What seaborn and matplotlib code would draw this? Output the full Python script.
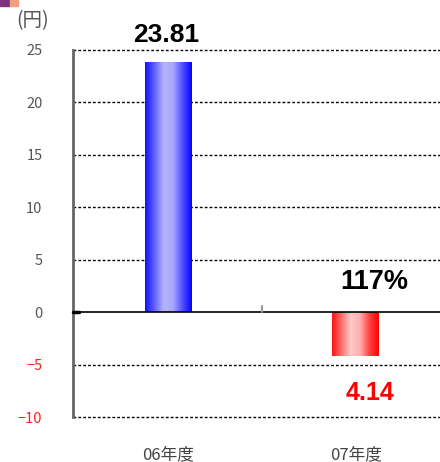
import numpy as np
import pandas as pd
import seaborn as sns
import matplotlib.pyplot as plt
from matplotlib.colors import LinearSegmentedColormap

categories = ['06年度', '07年度']
values = [23.81, -4.14]
value_labels = ['23.81', '4.14']
ratio_label = '117%'
yticks = [25, 20, 15, 10, 5, 0, -5, -10]

sns.set_style('white')
plt.rcParams['font.family'] = ['Noto Sans CJK JP', 'DejaVu Sans']

df = pd.DataFrame({'年度': categories, '円': values})

fig = plt.figure(figsize=(4.4, 4.62), dpi=100)
ax = fig.add_axes([0.166, 0.0974, 0.834, 0.7946])

sns.barplot(data=df, x='年度', y='円', ax=ax, width=0.25, color='white',
            linewidth=0, zorder=3)

# gradient fill for the bars
cmaps = [LinearSegmentedColormap.from_list('b', ['#1010ff', '#6060ff', '#b4b4ff', '#a8a8ff', '#5050ff', '#0000ff']),
         LinearSegmentedColormap.from_list('r', ['#ff1010', '#ff7070', '#ffc8c8', '#ffb0b0', '#ff4040', '#ff0000'])]
grad = np.linspace(0, 1, 256).reshape(1, -1)
for patch, cm in zip(ax.patches, cmaps):
    x0, y0 = patch.get_x(), patch.get_y()
    w, h = patch.get_width(), patch.get_height()
    im = ax.imshow(grad, cmap=cm, aspect='auto', zorder=4,
                   extent=[x0, x0 + w, min(y0, y0 + h), max(y0, y0 + h)])
    im.set_clip_path(patch)
ax.set_xlim(-0.51, 1.45)
ax.set_ylim(-10, 25)

# grid and axes
for y in yticks:
    if y == 0:
        ax.axhline(0, color='black', lw=1.2, zorder=5)
    else:
        ax.axhline(y, color='black', lw=1.0, ls=(0, (2, 1.5)), zorder=1, clip_on=False)
ax.plot([0.5, 0.5], [0, 0.6], color='#999999', lw=1.5, zorder=5)
ax.plot([-0.51, -0.48], [0, 0], color='black', lw=2.5, zorder=6, clip_on=False)

for s in ['top', 'right', 'bottom']:
    ax.spines[s].set_visible(False)
ax.spines['left'].set_color('#666666')
ax.spines['left'].set_linewidth(2)

ax.set_yticks(yticks)
ax.set_yticklabels([str(t).replace('-', '−') for t in yticks], fontsize=10.5)
for lab, t in zip(ax.get_yticklabels(), yticks):
    lab.set_color('#ff2020' if t < 0 else '#555555')
ax.tick_params(axis='y', length=0, pad=22)
ax.tick_params(axis='x', length=0, pad=21, labelsize=12, colors='#444444')
ax.set_xlabel('')
ax.set_ylabel('')

# labels
num_font = ['Liberation Sans']
ax.text(-0.01, 25.74, value_labels[0], ha='center', va='baseline', fontsize=19,
        fontweight='bold', family=num_font, color='black')
ax.text(1.10, 2.19, ratio_label, ha='center', va='baseline', fontsize=19.5,
        fontweight='bold', family=num_font, color='black')
ax.text(1.075, -8.39, value_labels[1], ha='center', va='baseline', fontsize=18,
        fontweight='bold', family=num_font, color='#ff0000')
fig.text(0.036, 0.955, '(円)', fontsize=14, color='#555555', va='center')

# small header mark at top-left
fig.patches.append(plt.Rectangle((0, 0.987), 0.022, 0.013, transform=fig.transFigure,
                                 color='#803080', figure=fig))
fig.patches.append(plt.Rectangle((0.022, 0.987), 0.02, 0.013, transform=fig.transFigure,
                                 color='#f0a080', figure=fig))

fig.savefig('out.png', dpi=100)
